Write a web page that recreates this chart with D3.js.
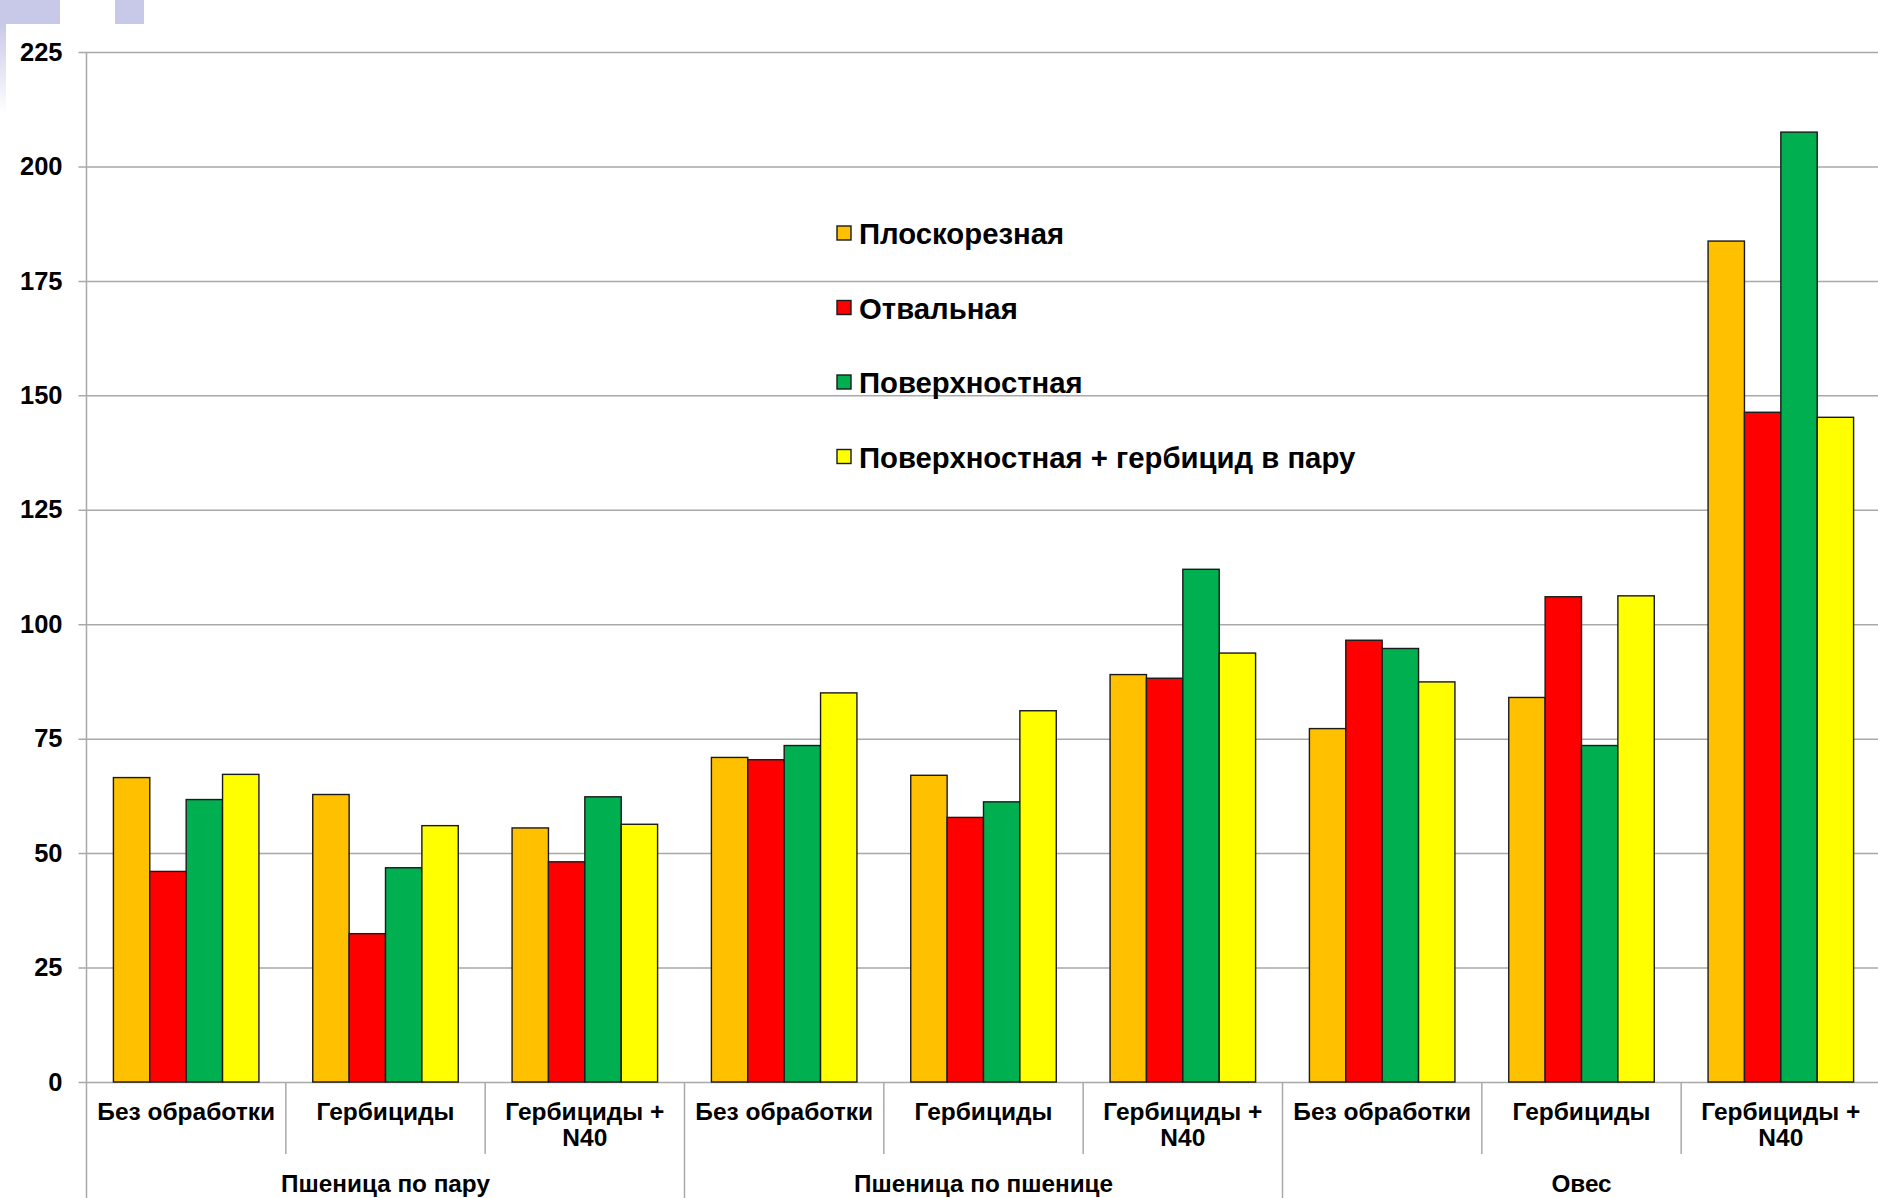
<!DOCTYPE html>
<html>
<head>
<meta charset="utf-8">
<script src="https://cdn.jsdelivr.net/npm/d3@7"></script>
<style>
html,body{margin:0;padding:0;background:#fff;}
svg{display:block;}
text{font-family:"Liberation Sans",Arial,sans-serif;font-weight:bold;fill:#000;}
</style>
</head>
<body>
<svg id="chart" width="1878" height="1198"></svg>
<script>
const groups = ["Пшеница по пару", "Пшеница по пшенице", "Овес"];
const treatments = [["Без обработки"], ["Гербициды"], ["Гербициды +", "N40"]];
const seriesNames = ["Плоскорезная", "Отвальная", "Поверхностная", "Поверхностная + гербицид в пару"];
const seriesColors = ["#FFC000", "#FF0000", "#00B050", "#FFFF00"];
const yTicks = [0, 25, 50, 75, 100, 125, 150, 175, 200, 225];

const ploskoreznaya = [66.5, 62.8, 55.5, 70.9, 67.0, 89.0, 77.2, 84.0, 183.7];
const otvalnaya     = [46.0, 32.4, 48.1, 70.4, 57.8, 88.2, 96.5, 106.0, 146.3];
const poverkhnost   = [61.7, 46.8, 62.3, 73.5, 61.2, 112.0, 94.7, 73.5, 207.5];
const poverkhHerb   = [67.2, 56.0, 56.3, 85.0, 81.1, 93.7, 87.4, 106.2, 145.2];
const seriesValues = [ploskoreznaya, otvalnaya, poverkhnost, poverkhHerb];

(function () {
const W = 1878, H = 1198;
const svg = d3.select("#chart");
svg.append("rect").attr("width", W).attr("height", H).attr("fill", "#fff");

// decorative slide elements (top-left)
const defs = svg.append("defs");
const lg = defs.append("linearGradient").attr("id", "fadeL").attr("x1", 0).attr("y1", 0).attr("x2", 0).attr("y2", 1);
lg.append("stop").attr("offset", 0).attr("stop-color", "#c8c9e8");
lg.append("stop").attr("offset", 1).attr("stop-color", "#ffffff");
svg.append("rect").attr("x", 0).attr("y", 0).attr("width", 60).attr("height", 24).attr("fill", "#c8c9e8");
svg.append("rect").attr("x", 115).attr("y", 0).attr("width", 29).attr("height", 24).attr("fill", "#c8c9e8");
svg.append("rect").attr("x", 0).attr("y", 24).attr("width", 6).attr("height", 90).attr("fill", "url(#fadeL)");

const pL = 86.5, pR = 1880.5, pT = 52, pB = 1082;
const cats = d3.range(groups.length * treatments.length);

const y = d3.scaleLinear().domain([0, 225]).range([pB, pT]);
const x0 = d3.scaleBand().domain(cats).range([pL, pR]).paddingInner(0.27).paddingOuter(0.135);
const x1 = d3.scaleBand().domain(d3.range(seriesNames.length)).range([0, x0.bandwidth()]);
const step = x0.step();

// gridlines + y axis ticks
const yAxis = d3.axisLeft(y).tickValues(yTicks).tickSize(-(W - pL + 10)).tickPadding(24).tickFormat(d3.format("d"));
const gy = svg.append("g").attr("transform", `translate(${pL},0)`).call(yAxis);
gy.select(".domain").remove();
gy.selectAll(".tick line").attr("stroke", "#a9a9a9").attr("stroke-width", 1.5).attr("x1", -8);
gy.selectAll(".tick text").attr("font-size", 25.5).attr("font-family", "Liberation Sans, Arial, sans-serif").attr("font-weight", "bold").attr("fill", "#000");

// bars
const barG = svg.append("g");
seriesValues.forEach((vals, si) => {
  barG.selectAll(null).data(vals).enter().append("rect")
    .attr("x", (d, i) => x0(i) + x1(si))
    .attr("y", d => y(d))
    .attr("width", x1.bandwidth())
    .attr("height", d => y(0) - y(d))
    .attr("fill", seriesColors[si])
    .attr("stroke", "#1a1a1a")
    .attr("stroke-width", 1.4);
});

// y axis line (extends to bottom as group separator)
svg.append("line").attr("x1", pL).attr("x2", pL).attr("y1", pT).attr("y2", H)
  .attr("stroke", "#a9a9a9").attr("stroke-width", 1.5);

// category separators and labels
cats.forEach(i => {
  const xs = x0(i) - (step - x0.bandwidth()) / 2;
  if (i > 0) {
    const isGroup = i % treatments.length === 0;
    svg.append("line").attr("x1", xs).attr("x2", xs).attr("y1", pB).attr("y2", isGroup ? H : 1154)
      .attr("stroke", "#a9a9a9").attr("stroke-width", 1.5);
  }
  const lines = treatments[i % treatments.length];
  const t = svg.append("text").attr("x", xs + step / 2).attr("y", 1120)
    .attr("text-anchor", "middle").attr("font-size", 24.5);
  lines.forEach((ln, k) => {
    t.append("tspan").attr("x", xs + step / 2).attr("dy", k === 0 ? 0 : 26).text(ln);
  });
});

// group labels
groups.forEach((g, gi) => {
  const xs = x0(gi * treatments.length) - (step - x0.bandwidth()) / 2;
  svg.append("text").attr("x", xs + step * treatments.length / 2).attr("y", 1192)
    .attr("text-anchor", "middle").attr("font-size", 24.3).text(g);
});

// legend
const leg = svg.append("g");
seriesNames.forEach((n, i) => {
  const cy = 233 + i * 74.5;
  leg.append("rect").attr("x", 837).attr("y", cy - 7).attr("width", 14).attr("height", 14)
    .attr("fill", seriesColors[i]).attr("stroke", "#1a1a1a").attr("stroke-width", 1.4);
  leg.append("text").attr("x", 859).attr("y", cy + 11).attr("font-size", 29.3).text(n);
});
})();
</script>
</body>
</html>
